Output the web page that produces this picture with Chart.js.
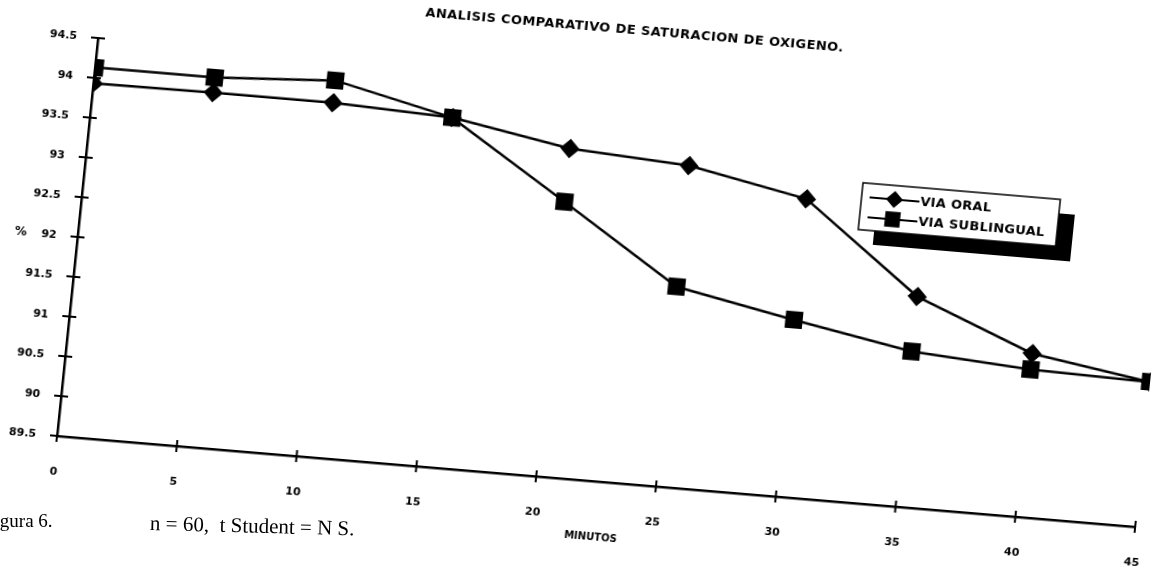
<!DOCTYPE html>
<html>
<head>
<meta charset="utf-8">
<script src="https://cdn.jsdelivr.net/npm/chart.js@4/dist/chart.umd.min.js"></script>
<style>
  html, body { margin: 0; padding: 0; background: #fff; overflow: hidden; }
  body { width: 1160px; height: 568px; position: relative; }
  #wrap { position: absolute; left: 0; top: 0; width: 1240px; height: 700px; }
  .note { position: absolute; font-family: "Liberation Serif", "Times New Roman", serif; font-size: 19px; color: #000; white-space: pre; line-height: 22px; }
  #fig { left: -16px; top: 510px; }
  #stat { left: 150px; top: 512px; font-size: 21px; transform: rotate(1.5deg); transform-origin: 0 50%; }
</style>
</head>
<body>
<div id="wrap"><canvas id="sat-chart" width="1240" height="700"></canvas></div>
<div class="note" id="fig">Figura 6.</div>
<div class="note" id="stat">n = 60,  t Student = N S.</div>
<script>
const minutes = [0, 5, 10, 15, 20, 25, 30, 35, 40, 45];
const viaOral = [93.93, 93.94, 93.94, 93.88, 93.62, 93.53, 93.24, 92.14, 91.55, 91.32];
const viaSublingual = [94.13, 94.13, 94.22, 93.88, 92.95, 92.01, 91.72, 91.45, 91.35, 91.32];
const yTicks = [89.5, 90, 90.5, 91, 91.5, 92, 92.5, 93, 93.5, 94, 94.5];
const seriesNames = ['VIA ORAL', 'VIA SUBLINGUAL'];
const chartTitle = 'ANALISIS COMPARATIVO DE SATURACION DE OXIGENO.';
const yUnit = '%';
const xUnit = 'MINUTOS';

const FONT = '"DejaVu Sans", Verdana, sans-serif';

// the printed sheet sits a little crooked
const TILT = 'rotate(4.82deg) skewX(-1.06deg)';
const ORIGIN = { x: 57, y: 436 };
const AREA = { top: 136, right: 1179 };

// short marks crossing both axes
const crossTicks = {
  id: 'crossTicks',
  beforeDatasetsDraw(chart) {
    const { ctx, chartArea, scales } = chart;
    ctx.save();
    ctx.strokeStyle = '#000';
    ctx.lineWidth = 2;
    ctx.beginPath();
    minutes.forEach(m => {
      const x = scales.x.getPixelForValue(m);
      ctx.moveTo(x, chartArea.bottom - (m === 0 ? 0 : 6));
      ctx.lineTo(x, chartArea.bottom + 6);
    });
    yTicks.forEach(v => {
      const y = scales.y.getPixelForValue(v);
      ctx.moveTo(chartArea.left - 7, y);
      ctx.lineTo(chartArea.left + 7, y);
    });
    ctx.stroke();
    ctx.restore();
  }
};

// title, unit sign and the boxed legend with its heavy shadow
const decorations = {
  id: 'decorations',
  afterDraw(chart) {
    const { ctx, chartArea, scales } = chart;
    ctx.save();
    ctx.fillStyle = '#000';
    ctx.textBaseline = 'middle';

    ctx.font = 'bold 13px ' + FONT;
    ctx.letterSpacing = '0.4px';
    ctx.textAlign = 'center';
    ctx.fillText(chartTitle, chartArea.left + 533, chartArea.bottom - 452);
    ctx.letterSpacing = '0px';

    ctx.font = 'bold 12px ' + FONT;
    ctx.fillText(yUnit, chartArea.left - 57, scales.y.getPixelForValue(92));

    const bx = chartArea.left + 776;
    const by = chartArea.bottom - 320;
    const bw = 198, bh = 47;
    ctx.fillRect(bx + 16, by + 14, bw, bh);
    ctx.fillStyle = '#fff';
    ctx.fillRect(bx, by, bw, bh);
    ctx.strokeStyle = '#000';
    ctx.lineWidth = 1.5;
    ctx.strokeRect(bx, by, bw, bh);

    ctx.textAlign = 'left';
    ctx.font = 'bold 13px ' + FONT;
    ctx.letterSpacing = '0.3px';
    chart.data.datasets.forEach((ds, i) => {
      const y = by + 14 + i * 20;
      ctx.strokeStyle = '#000';
      ctx.lineWidth = 2;
      ctx.beginPath();
      ctx.moveTo(bx + 8, y);
      ctx.lineTo(bx + 58, y);
      ctx.stroke();
      ctx.fillStyle = '#000';
      Chart.helpers.drawPoint(ctx, {
        pointStyle: ds.pointStyle,
        radius: ds.pointRadius * 0.9,
        rotation: 0,
        borderWidth: 1
      }, bx + 33, y);
      ctx.fill();
      ctx.fillText(ds.label, bx + 59, y + 1);
    });
    ctx.restore();
  }
};

const toPoints = values => minutes.map((m, i) => ({ x: m, y: values[i] }));

const canvas = document.getElementById('sat-chart');
const chart = new Chart(canvas, {
  type: 'line',
  data: {
    datasets: [
      {
        label: seriesNames[0],
        data: toPoints(viaOral),
        borderColor: '#000',
        borderWidth: 2.5,
        pointStyle: 'rectRot',
        pointRadius: 8,
        pointBackgroundColor: '#000',
        pointBorderColor: '#000',
        tension: 0
      },
      {
        label: seriesNames[1],
        data: toPoints(viaSublingual),
        borderColor: '#000',
        borderWidth: 2.5,
        pointStyle: 'rect',
        pointRadius: 10.5,
        pointBackgroundColor: '#000',
        pointBorderColor: '#000',
        tension: 0
      }
    ]
  },
  options: {
    responsive: false,
    animation: false,
    layout: { padding: { left: 37, top: AREA.top, right: 61, bottom: 94 } },
    plugins: {
      legend: { display: false },
      tooltip: { enabled: false }
    },
    scales: {
      x: {
        type: 'linear',
        min: 0,
        max: 45,
        grid: { display: false },
        border: { display: true, color: '#000', width: 2.5 },
        ticks: {
          stepSize: 5,
          padding: 22,
          color: '#000',
          font: { family: FONT, size: 11, weight: 'bold' }
        },
        title: {
          display: true,
          text: xUnit,
          color: '#000',
          padding: { top: 0, bottom: 8 },
          font: { family: FONT, size: 10, weight: 'bold' }
        },
        afterFit(scale) { scale.height = 70; }
      },
      y: {
        min: 89.5,
        max: 94.5,
        grid: { display: false },
        border: { display: true, color: '#000', width: 2.5 },
        ticks: {
          stepSize: 0.5,
          padding: 13,
          color: '#000',
          font: { family: FONT, size: 11, weight: 'bold' },
          callback: v => String(v)
        },
        afterFit(scale) { scale.width = 60; }
      }
    }
  },
  plugins: [crossTicks, decorations]
});

// pin the plot box to its spot, then tilt the whole sheet around the axis corner
let ca = chart.chartArea;
chart.options.layout.padding.top += AREA.top - ca.top;
chart.options.layout.padding.right += ca.right - AREA.right;
chart.update('none');
ca = chart.chartArea;

const wrap = document.getElementById('wrap');
wrap.style.left = (ORIGIN.x - ca.left) + 'px';
wrap.style.top = (ORIGIN.y - ca.bottom) + 'px';
wrap.style.transformOrigin = ca.left + 'px ' + ca.bottom + 'px';
wrap.style.transform = TILT;
</script>
</body>
</html>
